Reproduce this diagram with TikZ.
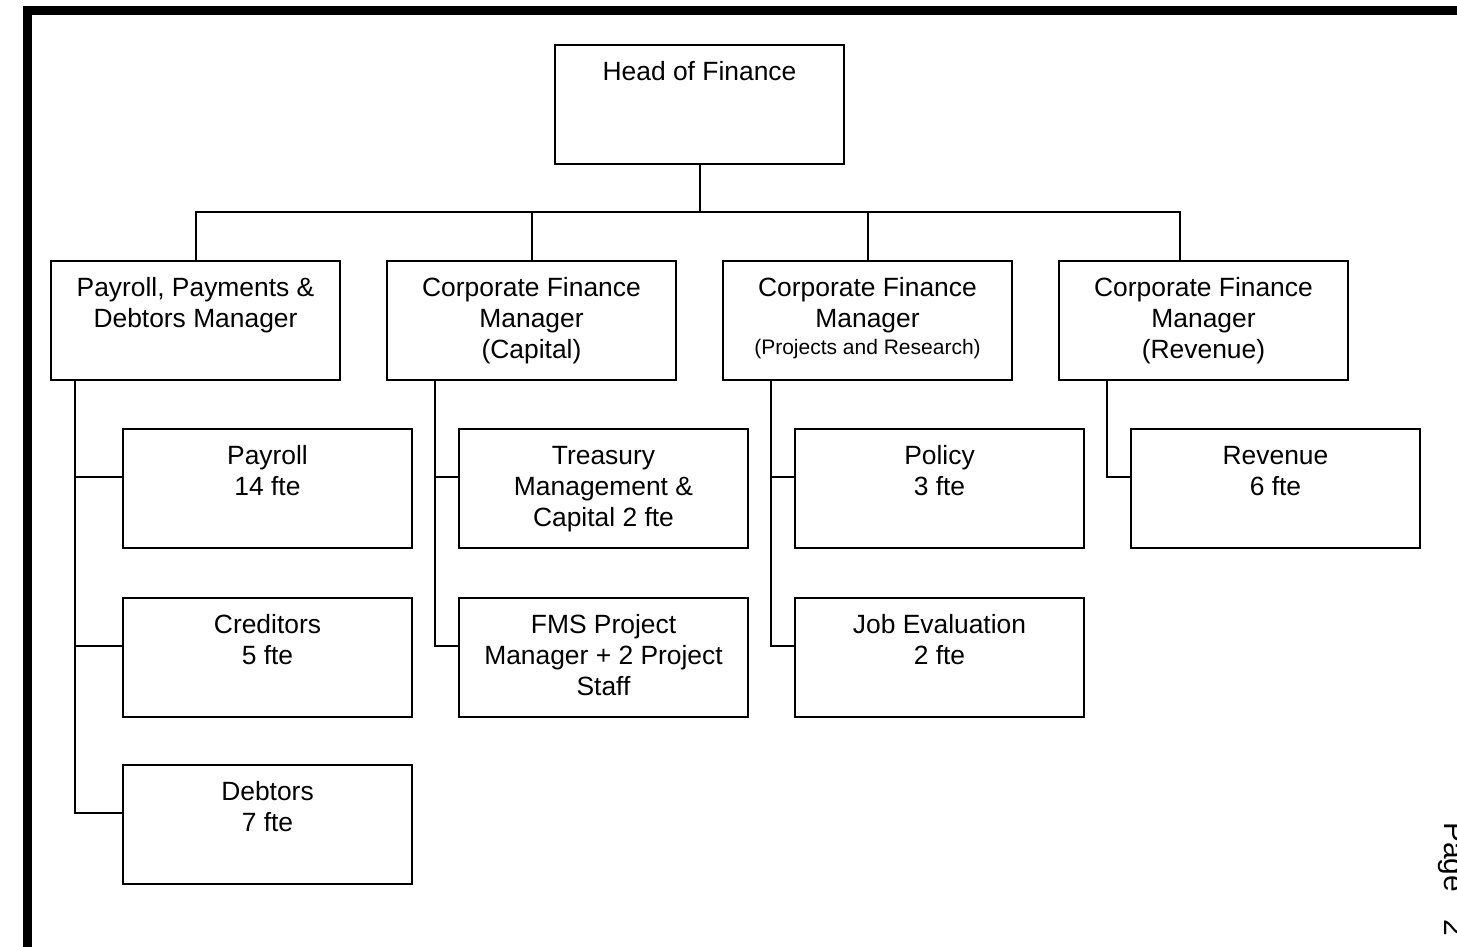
\documentclass[tikz,border=0pt]{standalone}
\usepackage{fontspec}
\setmainfont{Liberation Sans}
\newcommand{\bxt}[1]{\parbox[t][119pt][t]{287pt}{\centering\fontsize{26.4}{31}\selectfont\rule{0pt}{35.5pt}#1\par}}
\newcommand{\smallline}[1]{{\fontsize{21}{27}\selectfont #1}}
\tikzset{
  box/.style={draw, line width=2pt, inner sep=0pt, outer sep=0pt, minimum width=289pt, minimum height=119pt},
  link/.style={line width=2pt},
}
\begin{document}
\begin{tikzpicture}[x=1pt,y=-1pt]
\useasboundingbox (0,0) rectangle (1457,946);
\clip (0,0) rectangle (1457,946);
% page border
\draw[line width=9pt] (27.5,960) -- (27.5,10.5) -- (1470,10.5);
% head
\node[box] (head) at (699.5,104.5) {\bxt{Head of Finance}};
% managers
\node[box] (m1) at (195.5,320.5) {\bxt{Payroll, Payments \&\\Debtors Manager}};
\node[box] (m2) at (531.5,320.5) {\bxt{Corporate Finance\\Manager\\(Capital)}};
\node[box] (m3) at (867.5,320.5) {\bxt{Corporate Finance\\Manager\\[-4pt]\smallline{(Projects and Research)}}};
\node[box] (m4) at (1203.5,320.5) {\bxt{Corporate Finance\\Manager\\(Revenue)}};
% teams
\node[box] (p1) at (267.5,488.5) {\bxt{Payroll\\14 fte}};
\node[box] (p2) at (267.5,657.5) {\bxt{Creditors\\5 fte}};
\node[box] (p3) at (267.5,824.5) {\bxt{Debtors\\7 fte}};
\node[box] (t1) at (603.5,488.5) {\bxt{Treasury\\Management \&\\Capital 2 fte}};
\node[box] (t2) at (603.5,657.5) {\bxt{FMS Project\\Manager + 2 Project\\Staff}};
\node[box] (r1) at (939.5,488.5) {\bxt{Policy\\3 fte}};
\node[box] (r2) at (939.5,657.5) {\bxt{Job Evaluation\\2 fte}};
\node[box] (v1) at (1275.5,488.5) {\bxt{Revenue\\6 fte}};
% bus
\coordinate (bus) at (699.5,212);
\draw[link] (head.south) -- (bus);
\draw[link] (m1.north) |- (bus);
\draw[link] (m2.north) |- (bus);
\draw[link] (m3.north) |- (bus);
\draw[link] ([xshift=-23.5pt]m4.north) |- (bus);
% spines
\draw[link] ([xshift=24pt]m1.south west) |- ([yshift=11.5pt]p1.west);
\draw[link] ([xshift=24pt]m1.south west) |- ([yshift=11.5pt]p2.west);
\draw[link] ([xshift=24pt]m1.south west) |- ([yshift=11.5pt]p3.west);
\draw[link] ([xshift=48pt]m2.south west) |- ([yshift=11.5pt]t1.west);
\draw[link] ([xshift=48pt]m2.south west) |- ([yshift=11.5pt]t2.west);
\draw[link] ([xshift=48pt]m3.south west) |- ([yshift=11.5pt]r1.west);
\draw[link] ([xshift=48pt]m3.south west) |- ([yshift=11.5pt]r2.west);
\draw[link] ([xshift=48pt]m4.south west) |- ([yshift=11.5pt]v1.west);
% page number
\node[rotate=-90, anchor=base west, inner sep=0pt, font=\fontsize{30}{36}\selectfont] (pg) at (1444,822) {Page\hspace{27pt}2};
\end{tikzpicture}
\end{document}
